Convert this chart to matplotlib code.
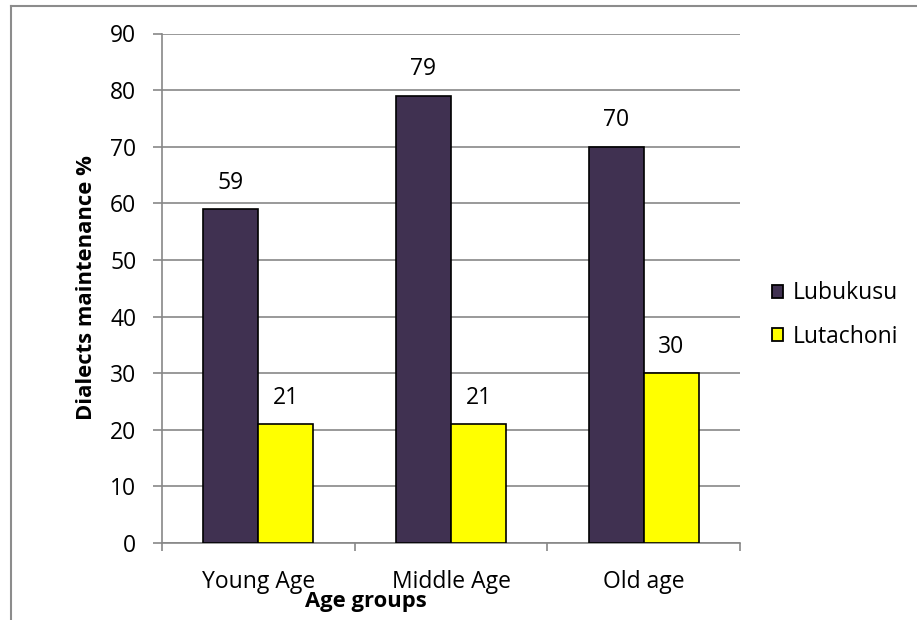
import matplotlib.pyplot as plt
from matplotlib.patches import Patch
from matplotlib.lines import Line2D
import numpy as np

plt.rcParams["font.family"] = ["Open Sans", "DejaVu Sans"]

groups = ["Young Age", "Middle Age", "Old age"]
series = ["Lubukusu", "Lutachoni"]
lubukusu = [59, 79, 70]
lutachoni = [21, 21, 30]
y_ticks = [0, 10, 20, 30, 40, 50, 60, 70, 80, 90]

colors = ["#403151", "#FFFF00"]
grey = "#878787"
fs = 16.5
fs_bold = 15.8

W, H = 917, 620
fig = plt.figure(figsize=(W / 100, H / 100), dpi=100)

# plot area in pixel terms
left, right, top, bottom = 162, 740, 33.5, 543
ax = fig.add_axes([left / W, 1 - bottom / H, (right - left) / W, (bottom - top) / H])

x = np.arange(len(groups))
bw = 1 / 3.5  # gap width 150%

for i, (name, vals) in enumerate(zip(series, [lubukusu, lutachoni])):
    pos = x - bw / 2 + i * bw
    ax.bar(pos, vals, width=bw, color=colors[i], edgecolor="black",
           linewidth=1.2, zorder=3)
    for px, v in zip(pos, vals):
        ax.annotate(str(v), (px, v), xytext=(0, 19), textcoords="offset points",
                    ha="center", va="center", fontsize=fs, color="black")

ax.set_xlim(-0.5, 2.5)
ax.set_ylim(0, 90)
ax.set_yticks(y_ticks)
ax.yaxis.grid(True, color=grey, linewidth=1.2, zorder=0)
ax.set_axisbelow(True)

ax.set_xticks(x)
ax.set_xticklabels(groups)
ax.set_xticks(np.arange(-0.5, 3, 1), minor=True)
ax.tick_params(axis="x", which="major", length=0, pad=19.5, labelsize=fs)
ax.tick_params(axis="x", which="minor", length=6, width=1.2, color=grey)
ax.tick_params(axis="y", length=6.5, width=1.2, color=grey, pad=12, labelsize=fs)

for side in ["top", "right"]:
    ax.spines[side].set_visible(False)
for side in ["left", "bottom"]:
    ax.spines[side].set_color(grey)
    ax.spines[side].set_linewidth(1.2)

fig.text(87 / W, 1 - 288 / H, "Dialects maintenance %", rotation=90,
         ha="center", va="center", fontsize=fs_bold, fontweight="bold")
fig.text(366 / W, 1 - 602 / H, "Age groups", ha="center", va="center",
         fontsize=fs_bold, fontweight="bold")

handles = [Patch(facecolor=c, edgecolor="black", linewidth=1.3) for c in colors]
fig.legend(handles, series, loc="center left", bbox_to_anchor=(772 / W, 1 - 315 / H),
           frameon=False, fontsize=fs, handlelength=0.5, handleheight=0.5,
           handletextpad=0.4, labelspacing=0.85, borderpad=0, borderaxespad=0)

# chart border
fig.add_artist(Line2D([11 / W, 11 / W], [0, 1 - 6 / H], color="#8c8c8c", linewidth=1.5))
fig.add_artist(Line2D([11 / W, 1], [1 - 6 / H, 1 - 6 / H], color="#8c8c8c", linewidth=1.5))

fig.savefig("out.png", dpi=100)
